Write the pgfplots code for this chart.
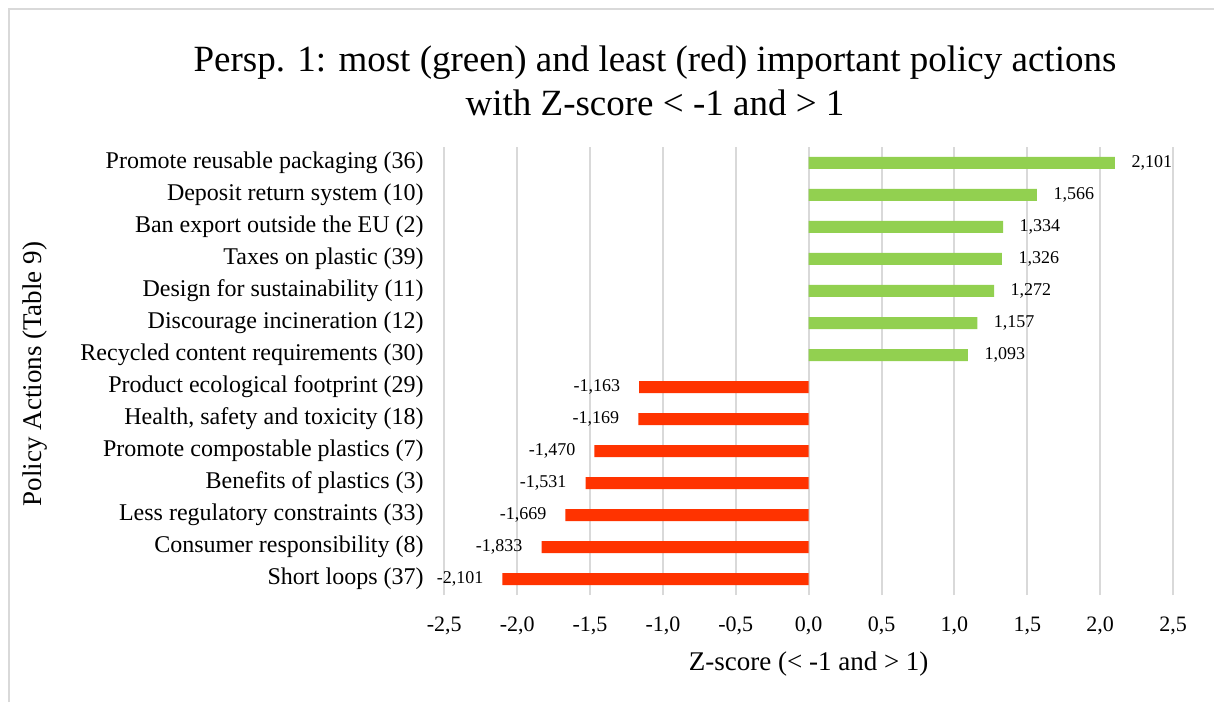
\documentclass[border=0pt]{standalone}
\usepackage{pgfplots}
\pgfplotsset{compat=1.18}
\usepackage{fontspec}
\setmainfont{Liberation Serif}
\definecolor{barGreen}{HTML}{92D050}
\definecolor{barRed}{HTML}{FF3300}
\definecolor{gridGray}{HTML}{D9D9D9}

\begin{document}
\begin{tikzpicture}[x=1pt,y=1pt]
\useasboundingbox (0,0) rectangle (607,351);
\fill[white] (0,0) rectangle (607,351);
% chart area frame (top and left edges)
\draw[gridGray, line width=1pt] (4.5,0) -- (4.5,346.5) -- (607,346.5);

% title
\node[anchor=base, font=\fontsize{18.5}{22}\selectfont] at (327.5,315.2)
  {Persp. 1: most (green) and least (red) important policy actions};
\node[anchor=base, font=\fontsize{18.5}{22}\selectfont] at (327.5,293)
  {with Z-score < -1 and > 1};

% y axis title
\node[rotate=90, font=\fontsize{13.5}{16}\selectfont] at (17.5,164)
  {Policy Actions (Table 9)};

\begin{axis}[
  at={(222.15pt,53.5pt)}, anchor=south west,
  scale only axis, width=364.35pt, height=224pt,
  xmin=-2.5, xmax=2.5, ymin=-0.5, ymax=13.5,
  clip=false,
  axis line style={draw=none},
  major tick length=0pt,
  xtick={-2.5,-2,-1.5,-1,-0.5,0,0.5,1,1.5,2,2.5},
  xmajorgrids, grid style={gridGray, line width=1pt},
  /pgf/number format/.cd, use comma, fixed, fixed zerofill, assume math mode=true,
  /pgfplots/.cd,
  xticklabel={\pgfmathprintnumber[precision=1]{\tick}},
  x tick label style={font=\fontsize{11}{13}\selectfont, yshift=-7.3pt},
  ytick={0,...,13},
  yticklabels={
    Short loops (37),
    Consumer responsibility (8),
    Less regulatory constraints (33),
    Benefits of plastics (3),
    Promote compostable plastics (7),
    {Health, safety and toxicity (18)},
    Product ecological footprint (29),
    Recycled content requirements (30),
    Discourage incineration (12),
    Design for sustainability (11),
    Taxes on plastic (39),
    Ban export outside the EU (2),
    Deposit return system (10),
    Promote reusable packaging (36)},
  y tick label style={font=\fontsize{12}{14}\selectfont, xshift=-6.8pt},
  xlabel={Z-score (< -1 and > 1)},
  xlabel style={font=\fontsize{13.5}{16}\selectfont, at={(axis description cs:0.5,0)}, anchor=base, yshift=-37.5pt},
  nodes near coords={\pgfmathprintnumber[precision=3]{\pgfplotspointmeta}},
  point meta=x,
]
% most important actions
\addplot[xbar, fill=barGreen, draw=none, bar width=6pt, bar shift=0pt,
  nodes near coords style={font=\fontsize{9}{10}\selectfont, anchor=west, xshift=4.8pt}]
  coordinates {(2.101,13) (1.566,12) (1.334,11) (1.326,10) (1.272,9) (1.157,8) (1.093,7)};
% least important actions
\addplot[xbar, fill=barRed, draw=none, bar width=6pt, bar shift=0pt,
  nodes near coords style={font=\fontsize{9}{10}\selectfont, anchor=east, xshift=-6pt}]
  coordinates {(-1.163,6) (-1.169,5) (-1.470,4) (-1.531,3) (-1.669,2) (-1.833,1) (-2.101,0)};
\end{axis}
\end{tikzpicture}
\end{document}
